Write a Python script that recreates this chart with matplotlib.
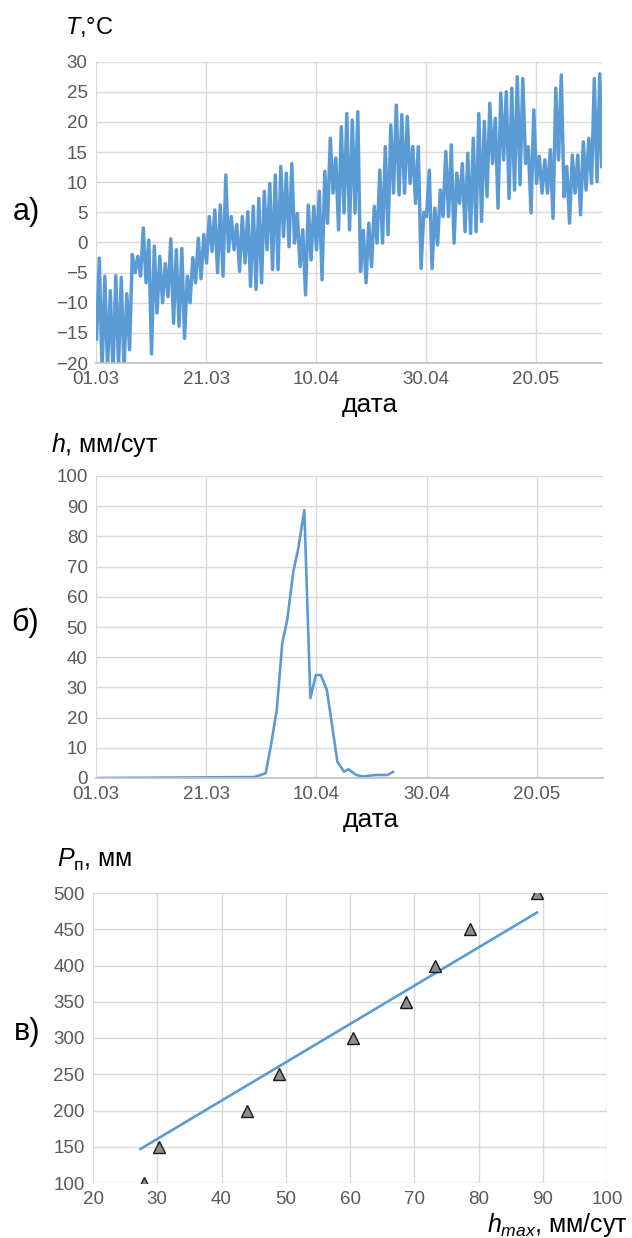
import numpy as np
import matplotlib
matplotlib.use('Agg')
import matplotlib.pyplot as plt

plt.rcParams['font.family'] = ['Liberation Sans', 'DejaVu Sans']
plt.rcParams['mathtext.fontset'] = 'custom'
plt.rcParams['mathtext.rm'] = 'Liberation Sans'
plt.rcParams['mathtext.it'] = 'Liberation Sans:italic'

# --- data -------------------------------------------------------------
# a) air temperature, daily lows / highs, days counted from 01.03
t_low = [-16, -21.5, -21, -21.5, -20.5, -21, -17.8, -5, -5.6, -6.7, -18.5, -11.7,
         -10, -9, -13.4, -13.9, -15.9, -10, -6.7, -6, -3.4, -1.5, -5, -5.6,
         -1.5, -1.2, -4.8, -3.4, -7.3, -7.8, -6.7, -1.2, -4.5, -4.5, 1, -0.7,
         -0.1, -4, -8.7, -2.9, -1.2, -6.2, 3.2, 8.2,
         2.1, 4.9, 2.1, 4.9, -4.8, -6.7, -4, -0.1, -0.1, 1.3, 8.2, 7.9,
         8.2, 9.8, 6.5, -4.3, 4.3, -4.3, -0.4, 4.3, 4.3, -0.1, 6.5, 1.8,
         1.5, 1.8, 3.5, 7.6, 13.1, 5.7, 13.7, 7.3, 8.7, 9.6, 13.1, 4.9,
         9.8, 8.2, 8.2, 4, 13.7, 7.6, 3.2, 8.2, 4.6, 8.7, 9.8, 10.1]
t_high = [-2.6, -5.6, -8, -5.5, -5.8, -8.5, -2, -2.3, 2.4, 0.4, -0.6, -2.3,
          -3.5, 0.6, -1.2, -1, -5.6, -2.5, 0.7, 1.3, 4.3, 5.4, 6.2, 11.2,
          4.3, 3, 4.3, 5.1, 6, 7.3, 8.5, 9.8, 11.2, 12.6, 11.5, 13.1,
          4.8, 2.1, 6.2, 6, 8.5, 11.8, 17.3, 14,
          19.2, 21.4, 20.3, 21.7, 2, 3.2, 6, 12, 15.9, 19.5, 22.8, 21.2,
          20.9, 15.9, 15.9, 5, 12, 5.7, 8.7, 15.1, 16.2, 11.5, 13.1, 14.8,
          17.3, 21.4, 20.1, 23.1, 20.6, 24.8, 25, 25.6, 27.5, 27.2, 15.9, 22,
          14.3, 13.7, 15.4, 25.6, 27.8, 12.6, 14.5, 14.5, 16.7, 17.3, 27.2, 28]
t_last = 12.6

# b) melt intensity, mm/day
h_day = [0.5, 28.6, 29.9, 30.8, 31.7, 32.8, 33.8, 34.7, 35.8, 36.7, 37.8, 38.9,
         39.9, 40.8, 41.9, 43.8, 45.0, 45.8, 47.2, 48.4, 50.8, 52.9, 53.9]
h_val = [0, 0.3, 1.0, 1.6, 10.4, 22.5, 44.7, 52.3, 68.3, 76, 88.7, 26.5,
         34.1, 34.1, 29.1, 5.4, 2.1, 2.9, 1.0, 0.5, 1.0, 1.0, 2.0]

# c) runoff layer vs max melt intensity
h_max = [27.9, 30.2, 44.0, 48.9, 60.4, 68.7, 73.2, 78.7, 89.1]
p_sum = [100, 150, 200, 250, 300, 350, 400, 450, 500]
trend_h = [27.4, 89.1]
trend_p = [147, 473]

date_ticks = [0, 20, 40, 60, 80]
date_labels = ['01.03', '21.03', '10.04', '30.04', '20.05']

# --- plotting ---------------------------------------------------------
W, H = 632, 1238
fig = plt.figure(figsize=(W / 100, H / 100), dpi=100)

blue = '#5b9bd5'
grid = '#d9d9d9'
tick_col = '#595959'


def box(l, t, r, b):
    return [l / W, 1 - b / H, (r - l) / W, (b - t) / H]


def style(ax):
    for s in ['top', 'right', 'left']:
        ax.spines[s].set_visible(False)
    ax.spines['bottom'].set_color('#bfbfbf')
    ax.spines['bottom'].set_linewidth(1.2)
    ax.grid(True, color=grid, linewidth=1.0)
    ax.set_axisbelow(True)
    ax.tick_params(length=0, labelsize=13.5, labelcolor=tick_col, pad=6)


def ftext(x, y, s, **kw):
    fig.text(x / W, 1 - y / H, s, va='center', **kw)


# a)
ax1 = fig.add_axes(box(96, 61.7, 602, 363))
days = np.arange(len(t_low))
tx = np.column_stack([days + 0.1, days + 0.6]).ravel()
ty = np.column_stack([t_low, t_high]).ravel()
tx = np.append(tx, 91.95)
ty = np.append(ty, t_last)
ax1.plot(tx, ty, color=blue, lw=2.5)
ax1.set_xlim(0, 92)
ax1.set_ylim(-20, 30)
ax1.set_yticks(range(-20, 31, 5))
ax1.set_xticks(date_ticks)
ax1.set_xticklabels(date_labels)
style(ax1)

# b)
ax2 = fig.add_axes(box(96, 476, 603, 778))
ax2.plot(h_day, h_val, color=blue, lw=1.9)
ax2.set_xlim(0, 92)
ax2.set_ylim(0, 100)
ax2.set_yticks(range(0, 101, 10))
ax2.set_xticks(date_ticks)
ax2.set_xticklabels(date_labels)
style(ax2)

# c)
ax3 = fig.add_axes(box(93, 893, 607, 1183))
ax3.plot(trend_h, trend_p, color=blue, lw=1.9, zorder=2)
ax3.plot(h_max, p_sum, linestyle='none', marker='^', markersize=8,
         markerfacecolor='#8c8c8c', markeredgecolor='#1a1a1a', mew=1.0, zorder=3)
ax3.set_xlim(20, 100)
ax3.set_ylim(100, 500)
ax3.set_xticks(range(20, 101, 10))
ax3.set_yticks(range(100, 501, 50))
style(ax3)
ax3.spines['bottom'].set_visible(False)

# titles and labels
ftext(65, 27, r'$T$,°C', fontsize=17, ha='left')
ftext(370, 405, 'дата', fontsize=19, ha='center')
ftext(51, 445, r'$h$, мм/сут', fontsize=18, ha='left')
ftext(371, 820, 'дата', fontsize=19, ha='center')
ftext(57, 860, r'$P_{\mathrm{п}}$, мм', fontsize=18, ha='left')
ftext(628, 1225, r'$h_{max}$, мм/сут', fontsize=18, ha='right')

ftext(26, 212, 'а)', fontsize=22, ha='center')
ftext(25, 623, 'б)', fontsize=22, ha='center')
ftext(27, 1032, 'в)', fontsize=22, ha='center')

fig.savefig('out.png', dpi=100, facecolor='white')
